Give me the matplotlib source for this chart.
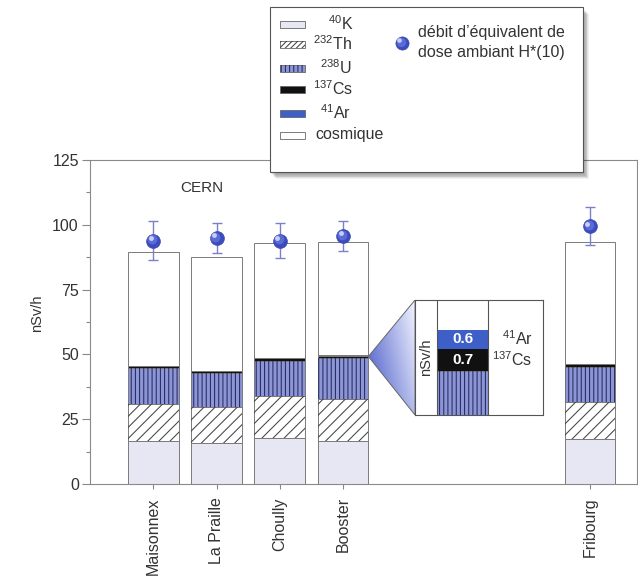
import numpy as np
import matplotlib
matplotlib.use("Agg")
import matplotlib.pyplot as plt
from matplotlib.patches import Rectangle, Polygon
from matplotlib.transforms import offset_copy
from matplotlib.ticker import MultipleLocator

plt.rcParams['font.family'] = ['Liberation Sans', 'DejaVu Sans']
plt.rcParams['mathtext.fontset'] = 'custom'
plt.rcParams['mathtext.rm'] = 'Liberation Sans'
plt.rcParams['mathtext.it'] = 'Liberation Sans:italic'
plt.rcParams['hatch.linewidth'] = 0.75

# stations and their contributions (nSv/h)
sites = ["Maisonnex", "La Praille", "Choully", "Booster", "Fribourg"]
site_pos = [0, 1, 2, 3, 6.9]
k40 = [16.6, 15.7, 17.6, 16.6, 17.2]
th232 = [14.3, 13.9, 16.4, 16.1, 14.6]
u238 = [14.0, 13.1, 13.6, 15.8, 13.2]
cs137 = [0.6, 0.8, 1.2, 0.7, 1.2]
ar41 = [0.0, 0.0, 0.0, 0.6, 0.0]
cosmic = [44.0, 44.1, 44.2, 43.6, 47.1]
hstar10 = [93.9, 95.0, 93.9, 95.7, 99.5]
hstar10_err = [7.4, 5.8, 6.6, 5.8, 7.2]

TXT = '#333333'
EDGE = '#7a7a7a'

layer_styles = [
    dict(face='#e7e7f4', hatch=None, hc=None, label=r'$^{40}$K'),
    dict(face='white', hatch='///', hc='#444444', label=r'$^{232}$Th'),
    dict(face='#8c96d6', hatch='||||', hc='#262a5e', label=r'$^{238}$U'),
    dict(face='#111111', hatch=None, hc=None, label=r'$^{137}$Cs'),
    dict(face='#3e5ec8', hatch=None, hc=None, label=r'$^{41}$Ar'),
    dict(face='white', hatch=None, hc=None, label='cosmique'),
]
layers = [k40, th232, u238, cs137, ar41, cosmic]


def stack_bar(ax, x, heights, width, zorder=2):
    bottom = np.zeros(len(x))
    for vals, st in zip(heights, layer_styles):
        vals = np.asarray(vals, dtype=float)
        ax.bar(x, vals, width, bottom=bottom, color=st['face'],
               edgecolor=EDGE, linewidth=0.7, zorder=zorder)
        if st['hatch']:
            ax.bar(x, vals, width, bottom=bottom, fill=False, hatch=st['hatch'],
                   edgecolor=st['hc'], linewidth=0, zorder=zorder + 0.1)
        bottom += vals
    return bottom


def spheres(ax, fig, x, y, ms=10, zorder=5):
    ax.plot(x, y, 'o', ms=ms, mfc='#3b4cc0', mec='#34409c', mew=0.4, zorder=zorder)
    ax.plot(x, y, 'o', ms=ms * 0.7, mfc='#5b6bd6', mec='none', zorder=zorder + 0.1,
            transform=offset_copy(ax.transData, fig, x=-0.8, y=0.8, units='points'))
    ax.plot(x, y, 'o', ms=ms * 0.35, mfc='#d4daff', mec='none', alpha=0.9,
            zorder=zorder + 0.2,
            transform=offset_copy(ax.transData, fig, x=-1.8, y=1.8, units='points'))


fig = plt.figure(figsize=(6.38, 5.78), dpi=100)
ax = fig.add_axes([0.141, 0.1626, 0.857, 0.5606])

stack_bar(ax, site_pos, layers, 0.8)
ax.errorbar(site_pos, hstar10, yerr=hstar10_err, fmt='none', ecolor='#7b80c8',
            elinewidth=1.0, capsize=3.5, capthick=1.0, zorder=4)
spheres(ax, fig, site_pos, hstar10)

ax.set_xlim(-1.0, 7.64)
ax.set_ylim(0, 125)
ax.set_yticks([0, 25, 50, 75, 100, 125])
ax.yaxis.set_minor_locator(MultipleLocator(12.5))
ax.set_xticks(site_pos)
ax.set_xticklabels(sites, rotation=90, fontsize=11.5, color=TXT)
ax.tick_params(axis='y', which='major', length=6, width=0.8, color='#888888',
               labelsize=11.5, labelcolor=TXT, pad=2)
ax.tick_params(axis='y', which='minor', length=3, width=0.8, color='#888888')
ax.tick_params(axis='x', length=3.5, width=0.8, color='#888888', pad=6)
for sp in ax.spines.values():
    sp.set_color('#8a8a8a')
    sp.set_linewidth(0.8)
ax.set_ylabel('nSv/h', fontsize=10.5, color=TXT)
ax.yaxis.set_label_coords(-0.084, 0.528)
ax.text(0.76, 114.2, 'CERN', fontsize=11, color=TXT, ha='center', va='center')

# zoom on the top of the Booster column
b = site_pos.index(3)
u_top = k40[b] + th232[b] + u238[b]
lo = u_top - 1.375
iax_rect = [0.6505, 0.282, 0.2, 0.199]
iax = fig.add_axes(iax_rect, zorder=3)
ix = 0.372
iw = 0.394
iax.bar(ix, u238[b], iw, bottom=u_top - u238[b], color=layer_styles[2]['face'],
        edgecolor=EDGE, linewidth=0.7)
iax.bar(ix, u238[b], iw, bottom=u_top - u238[b], fill=False, hatch='||||',
        edgecolor=layer_styles[2]['hc'], linewidth=0)
iax.bar(ix, cs137[b], iw, bottom=u_top, color=layer_styles[3]['face'], linewidth=0)
iax.bar(ix, ar41[b], iw, bottom=u_top + cs137[b], color=layer_styles[4]['face'],
        linewidth=0)
iax.text(ix, u_top + cs137[b] / 2, f'{cs137[b]:.1f}', color='white', fontsize=11,
         fontweight='bold', ha='center', va='center')
iax.text(ix, u_top + cs137[b] + ar41[b] / 2, f'{ar41[b]:.1f}', color='white',
         fontsize=11, fontweight='bold', ha='center', va='center')
iax.text(0.92, u_top + cs137[b] / 2, r'$^{137}$Cs', color=TXT, fontsize=11.5,
         ha='right', va='center')
iax.text(0.92, u_top + cs137[b] + ar41[b] / 2, r'$^{41}$Ar', color=TXT, fontsize=11.5,
         ha='right', va='center')
iax.text(0.09, lo + 1.8, 'nSv/h', rotation=90, color=TXT, fontsize=10.5,
         ha='center', va='center')
for xl in (ix - iw / 2, ix + iw / 2):
    iax.axvline(xl, color='#555555', lw=0.8)
iax.set_xlim(0, 1)
iax.set_ylim(lo, lo + 3.6)
iax.set_xticks([])
iax.set_yticks([])
for sp in iax.spines.values():
    sp.set_color('#555555')
    sp.set_linewidth(0.8)

# shaded wedge from the Booster column to the zoom box
apex = fig.transFigure.inverted().transform(
    ax.transData.transform((site_pos[b] + 0.4, u_top + cs137[b])))
gx0 = apex[0]
gw = iax_rect[0] - gx0
gax = fig.add_axes([gx0, iax_rect[1], gw, iax_rect[3]], zorder=3)
gax.set_xlim(0, 1)
gax.set_ylim(0, 1)
gax.axis('off')
X, Y = np.meshgrid(np.linspace(0, 1, 200), np.linspace(0, 1, 200))
t = np.clip(0.65 * X + 0.35 * Y, 0, 1)[..., None]
dark = np.array([0.26, 0.33, 0.78])
light = np.array([0.95, 0.96, 1.0])
rgb = dark * (1 - t) + light * t
ay = (apex[1] - iax_rect[1]) / iax_rect[3]
tri = Polygon([(0, ay), (1, 1), (1, 0)], closed=True, transform=gax.transAxes,
              facecolor='none', edgecolor='#666666', lw=0.7)
img = gax.imshow(rgb, extent=[0, 1, 0, 1], origin='lower', aspect='auto')
img.set_clip_path(tri)
gax.add_patch(tri)

# legend box drawn in pixel coordinates on top of everything
oax = fig.add_axes([0, 0, 1, 1], zorder=10)
oax.set_xlim(0, 638)
oax.set_ylim(578, 0)
oax.axis('off')
for d in range(1, 9):
    oax.add_patch(Rectangle((269.5 + d * 0.8, 7 + d * 0.9), 313, 165,
                            facecolor='black', alpha=0.06, lw=0))
oax.add_patch(Rectangle((269.5, 7), 313, 165, facecolor='white',
                        edgecolor='#555555', lw=0.8))

row_y = [24, 44, 68, 89, 113, 135]
label_x = [328, 313, 320, 313, 320, 315]
for st, yy, lx in zip(layer_styles, row_y, label_x):
    oax.add_patch(Rectangle((280, yy - 3.5), 25, 7, facecolor=st['face'],
                            edgecolor='#666666', lw=0.6))
    if st['hatch']:
        oax.add_patch(Rectangle((280, yy - 3.5), 25, 7, fill=False,
                                hatch=st['hatch'] * 2 if st['hatch'] == '///' else st['hatch'],
                                edgecolor=st['hc'], lw=0))
    oax.text(lx, yy, st['label'], fontsize=11.5, color=TXT, ha='left', va='center')

spheres(oax, fig, [401.7], [42.7], ms=9.5)
oax.text(418, 32, 'débit d’équivalent de', fontsize=11.5, color=TXT,
         ha='left', va='center')
oax.text(418, 52, 'dose ambiant H*(10)', fontsize=11.5, color=TXT,
         ha='left', va='center')

fig.savefig('out.png', dpi=100)
